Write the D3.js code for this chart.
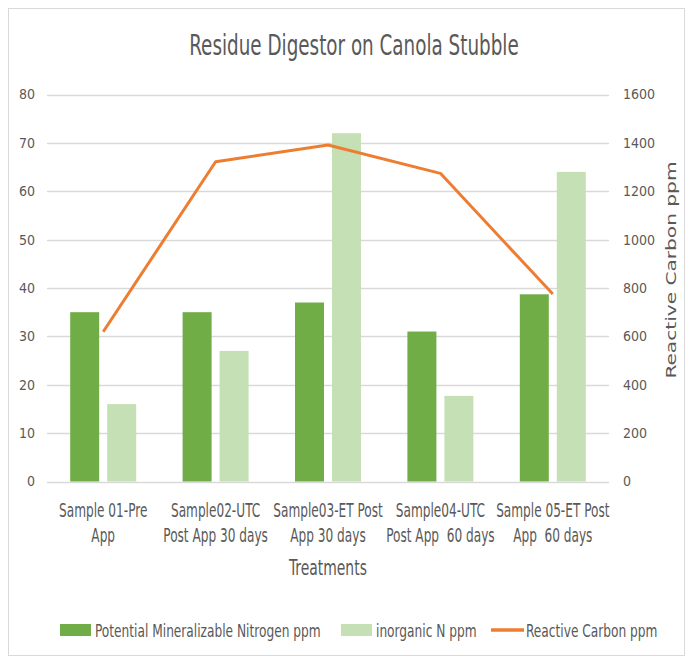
<!DOCTYPE html>
<html>
<head>
<meta charset="utf-8">
<script src="https://cdn.jsdelivr.net/npm/d3@7"></script>
<style>
  html, body { margin: 0; padding: 0; background: #fff; }
  svg { display: block; }
  text { font-family: "DejaVu Sans Condensed", "DejaVu Sans", sans-serif; fill: #595959; white-space: pre; }
</style>
</head>
<body>
<svg id="chart" width="691" height="659"></svg>
<script>
// ---- data ----
const categories = [
  "Sample 01-Pre App",
  "Sample02-UTC Post App 30 days",
  "Sample03-ET Post App 30 days",
  "Sample04-UTC Post App  60 days",
  "Sample 05-ET Post App  60 days"
];
const categoryLines = [
  ["Sample 01-Pre", "App"],
  ["Sample02-UTC", "Post App 30 days"],
  ["Sample03-ET Post", "App 30 days"],
  ["Sample04-UTC", "Post App  60 days"],
  ["Sample 05-ET Post", "App  60 days"]
];
const potentialN = [35, 35, 37, 31, 38.7];
const inorganicN = [16, 27, 72, 17.7, 64];
const reactiveCarbon = [619, 1322, 1391, 1274, 775];
const leftTicks = [0, 10, 20, 30, 40, 50, 60, 70, 80];
const rightTicks = [0, 200, 400, 600, 800, 1000, 1200, 1400, 1600];
const seriesNames = ["Potential Mineralizable Nitrogen ppm", "inorganic N ppm", "Reactive Carbon ppm"];
const colors = ["#70ad47", "#c5e0b4", "#ed7d31"];

// ---- layout ----
const svg = d3.select("#chart");
const plot = { left: 47, right: 609, top: 94.5, bottom: 481.5 };

// chart border
svg.append("rect").attr("x", 8.5).attr("y", 8.5).attr("width", 676).attr("height", 647)
  .attr("fill", "#fff").attr("stroke", "#d9d9d9").attr("stroke-width", 1);

const x = d3.scaleBand().domain(categories).range([plot.left, plot.right]).paddingInner(0).paddingOuter(0);
const yL = d3.scaleLinear().domain([0, 80]).range([plot.bottom, plot.top]);
const yR = d3.scaleLinear().domain([0, 1600]).range([plot.bottom, plot.top]);

// group sizing (Excel-like gap width)
const bw = x.bandwidth();
const barW = 29, barGap = 8;
const groupW = barW * 2 + barGap;
const xSub = d3.scaleBand().domain([0, 1])
  .range([(bw - groupW) / 2, (bw - groupW) / 2 + groupW])
  .paddingInner(barGap / (barW + barGap)).paddingOuter(0);

// gridlines
svg.append("g").selectAll("line").data(leftTicks).join("line")
  .attr("x1", plot.left).attr("x2", plot.right)
  .attr("y1", d => Math.round(yL(d)) + 0.5).attr("y2", d => Math.round(yL(d)) + 0.5)
  .attr("stroke", "#d9d9d9").attr("stroke-width", 1.3);

// left axis
const leftAxis = svg.append("g").attr("transform", `translate(${plot.left},0)`)
  .call(d3.axisLeft(yL).tickValues(leftTicks).tickSize(0).tickPadding(12));
leftAxis.select(".domain").remove();
leftAxis.selectAll("text").attr("font-size", 14).attr("fill", "#595959")
  .style("font-family", '"DejaVu Sans Condensed", sans-serif');

// right axis
const rightAxis = svg.append("g").attr("transform", `translate(${plot.right},0)`)
  .call(d3.axisRight(yR).tickValues(rightTicks).tickFormat(d3.format("d")).tickSize(0).tickPadding(14));
rightAxis.select(".domain").remove();
rightAxis.selectAll("text").attr("font-size", 14).attr("fill", "#595959")
  .style("font-family", '"DejaVu Sans Condensed", sans-serif');

// bars
const series = [potentialN, inorganicN];
series.forEach((vals, si) => {
  svg.append("g").selectAll("rect").data(vals).join("rect")
    .attr("x", (d, i) => x(categories[i]) + xSub(si))
    .attr("width", xSub.bandwidth())
    .attr("y", d => yL(d))
    .attr("height", d => yL(0) - yL(d))
    .attr("fill", colors[si]);
});

// line
const line = d3.line()
  .x((d, i) => x(categories[i]) + bw / 2)
  .y(d => yR(d));
svg.append("path").datum(reactiveCarbon)
  .attr("d", line).attr("fill", "none").attr("stroke", colors[2])
  .attr("stroke-width", 3).attr("stroke-linejoin", "round");

// stretched text helper: sx = along-text scale, sy = glyph height scale
function stext(parent, tx, ty, str, size, sx, sy, anchor, rot) {
  const g = parent.append("g").attr("transform", `translate(${tx},${ty})${rot ? ` rotate(${rot})` : ""} scale(${sx},${sy})`);
  return g.append("text").attr("x", 0).attr("y", 0).attr("font-size", size)
    .attr("text-anchor", anchor).text(str);
}

// x category labels
const xl = svg.append("g");
categories.forEach((c, i) => {
  const cx = x(c) + bw / 2;
  stext(xl, cx, 516.5, categoryLines[i][0], 15.5, 0.87, 1.2, "middle");
  stext(xl, cx, 541.5, categoryLines[i][1], 15.5, 0.87, 1.2, "middle");
});

// axis titles
stext(svg, (plot.left + plot.right) / 2, 575, "Treatments", 18, 0.86, 1.15, "middle");
stext(svg, 676, 270, "Reactive Carbon ppm", 14, 1.6, 1.0, "middle", -90);

// title
stext(svg, 354, 55, "Residue Digestor on Canola Stubble", 24, 0.85, 1.2, "middle");

// legend
const lg = svg.append("g");
const legendItems = [
  { x: 60, name: seriesNames[0], type: "rect", color: colors[0] },
  { x: 341, name: seriesNames[1], type: "rect", color: colors[1] },
  { x: 491, name: seriesNames[2], type: "line", color: colors[2] }
];
legendItems.forEach(it => {
  if (it.type === "rect") {
    lg.append("rect").attr("x", it.x).attr("y", 624).attr("width", 31).attr("height", 12).attr("fill", it.color);
  } else {
    lg.append("line").attr("x1", it.x).attr("x2", it.x + 33).attr("y1", 630).attr("y2", 630)
      .attr("stroke", it.color).attr("stroke-width", 3.5);
  }
  stext(lg, it.x + 35, 636.5, it.name, 15.5, 0.875, 1.1, "start");
});
</script>
</body>
</html>
